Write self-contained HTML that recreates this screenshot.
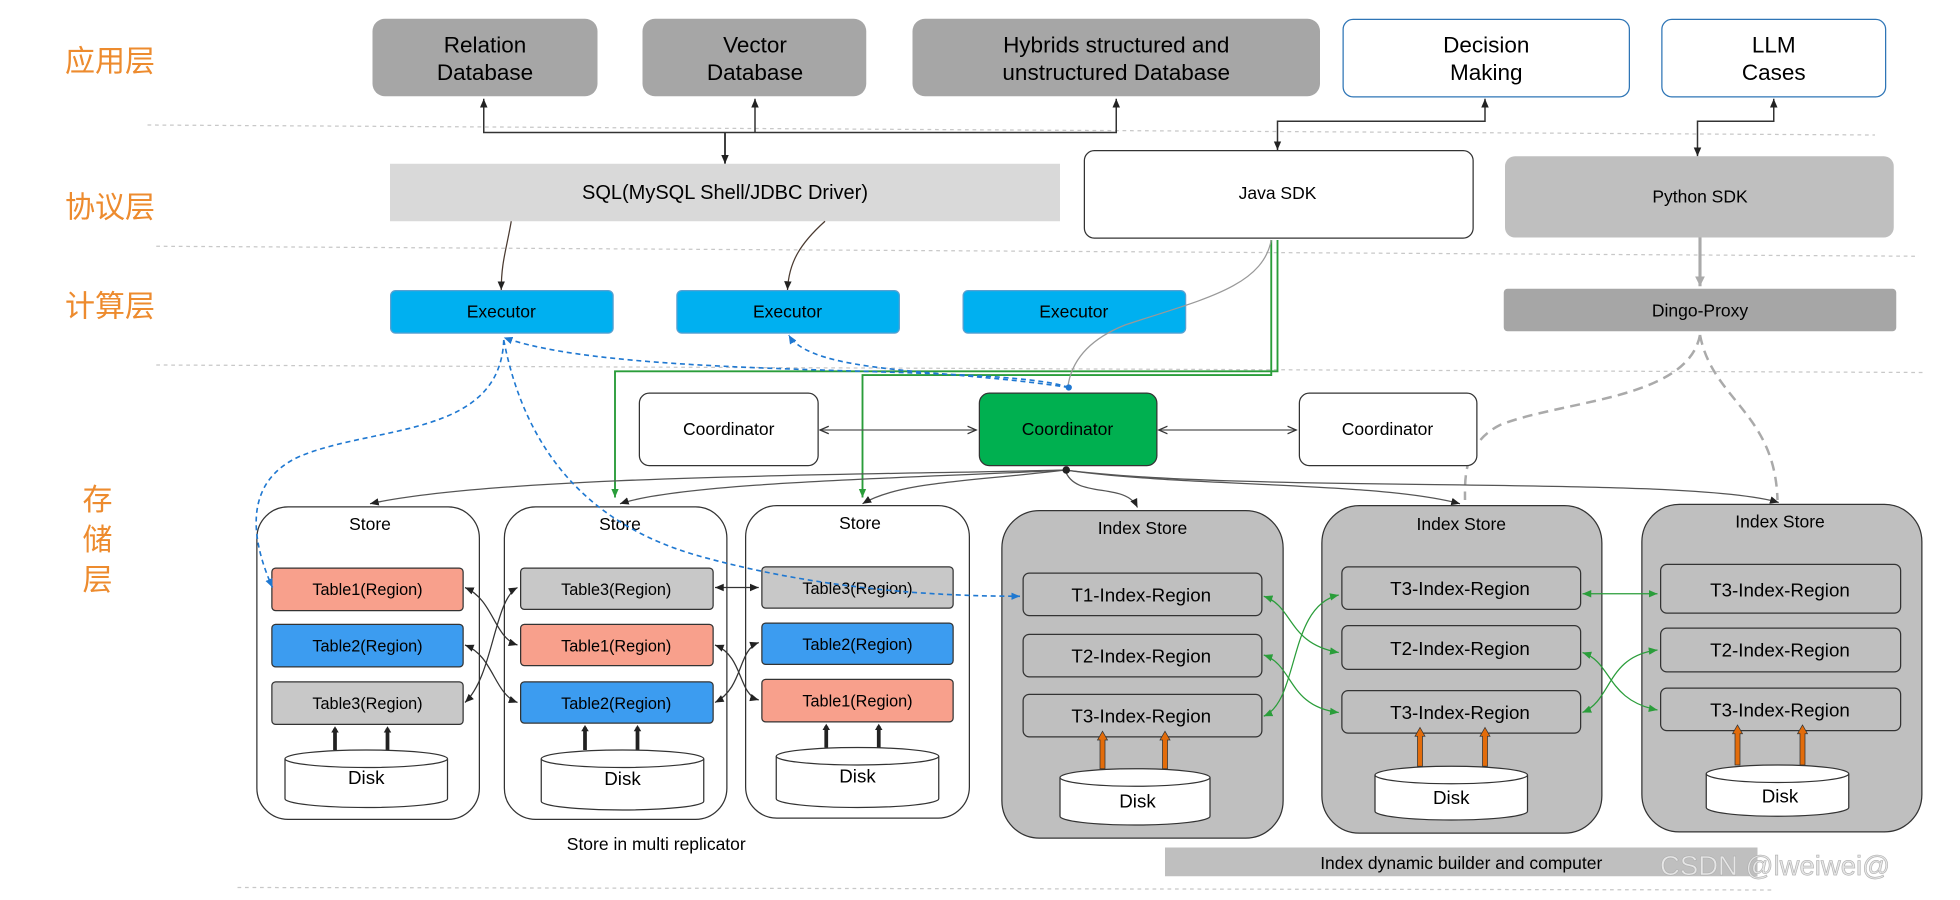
<!DOCTYPE html>
<html><head><meta charset="utf-8"><style>
html,body{margin:0;padding:0;background:#fff;width:1960px;height:900px;overflow:hidden}
svg{display:block}
text{font-family:"Liberation Sans","Noto Sans CJK SC",sans-serif;fill:#000}
</style></head><body>
<svg width="1960" height="900" viewBox="0 0 1568 720" xmlns="http://www.w3.org/2000/svg">
<defs>
<marker id="a" markerWidth="8" markerHeight="8" refX="7" refY="4" orient="auto-start-reverse" markerUnits="userSpaceOnUse"><path d="M0,1 L7,4 L0,7 z" fill="#222"/></marker>
<marker id="ao" markerWidth="8" markerHeight="8" refX="7" refY="4" orient="auto-start-reverse" markerUnits="userSpaceOnUse"><path d="M0,1 L7,4 L0,7" fill="none" stroke="#333"/></marker>
<marker id="ab" markerWidth="8" markerHeight="8" refX="7" refY="4" orient="auto-start-reverse" markerUnits="userSpaceOnUse"><path d="M0,1 L7,4 L0,7 z" fill="#1f78d1"/></marker>
<marker id="ag" markerWidth="8" markerHeight="8" refX="7" refY="4" orient="auto-start-reverse" markerUnits="userSpaceOnUse"><path d="M0,1 L7,4 L0,7 z" fill="#2a9d3a"/></marker>
<marker id="agr" markerWidth="10" markerHeight="10" refX="8" refY="5" orient="auto" markerUnits="userSpaceOnUse"><path d="M0,1 L8,5 L0,9 z" fill="#aaa"/></marker>
<marker id="ak" markerWidth="8" markerHeight="8" refX="3" refY="4" orient="auto" markerUnits="userSpaceOnUse"><path d="M0,1 L5,4 L0,7 z" fill="#222"/></marker>
</defs>
<g stroke="#c8c8c8" stroke-dasharray="3,3" stroke-width="1">
<line x1="118" y1="100" x2="1500" y2="108"/>
<line x1="125" y1="197" x2="1535" y2="205"/>
<line x1="125" y1="292" x2="1540" y2="298"/>
<line x1="190" y1="710" x2="1420" y2="712"/>
</g>
<g font-size="24">
<text x="52" y="57" style="fill:#ed8b2e">应用层</text>
<text x="52" y="174" style="fill:#ed8b2e">协议层</text>
<text x="52" y="253" style="fill:#ed8b2e">计算层</text>
<text x="66" y="408" style="fill:#ed8b2e">存</text>
<text x="66" y="440" style="fill:#ed8b2e">储</text>
<text x="66" y="472" style="fill:#ed8b2e">层</text>
</g>
<g font-size="18" text-anchor="middle">
<rect x="298" y="15" width="180" height="62" rx="10" fill="#a6a6a6"/>
<text x="388" y="42">Relation</text><text x="388" y="64">Database</text>
<rect x="514" y="15" width="179" height="62" rx="10" fill="#a6a6a6"/>
<text x="604" y="42">Vector</text><text x="604" y="64">Database</text>
<rect x="730" y="15" width="326" height="62" rx="10" fill="#a6a6a6"/>
<text x="893" y="42">Hybrids structured and</text><text x="893" y="64">unstructured Database</text>
<rect x="1074.5" y="15.5" width="229" height="62" rx="8" fill="#fff" stroke="#2e75b6"/>
<text x="1189" y="42">Decision</text><text x="1189" y="64">Making</text>
<rect x="1329.5" y="15.5" width="179" height="62" rx="8" fill="#fff" stroke="#2e75b6"/>
<text x="1419" y="42">LLM</text><text x="1419" y="64">Cases</text>
</g>
<g fill="none" stroke="#333" stroke-width="1.2">
<path d="M387,79 V106 H893 V79" marker-start="url(#a)" marker-end="url(#a)"/>
<path d="M604,79 V106" marker-start="url(#a)"/>
<path d="M580,106 V131" marker-end="url(#a)" stroke-width="1.5"/>
<path d="M1188,79 V97 H1022 V120" marker-start="url(#a)" marker-end="url(#a)"/>
<path d="M1419,79 V97 H1358 V125" marker-start="url(#a)" marker-end="url(#a)"/>
</g>
<rect x="312" y="131" width="536" height="46" fill="#d9d9d9"/>
<text x="580" y="159" font-size="16" text-anchor="middle">SQL(MySQL Shell/JDBC Driver)</text>
<rect x="867.5" y="120.5" width="311" height="70" rx="8" fill="#fff" stroke="#333"/>
<text x="1022" y="159" font-size="14" text-anchor="middle">Java SDK</text>
<rect x="1204" y="125" width="311" height="65" rx="8" fill="#bfbfbf"/>
<text x="1360" y="162" font-size="14" text-anchor="middle">Python SDK</text>
<g fill="none" stroke="#4a3a30" stroke-width="1">
<path d="M409,177 C405,200 401,210 401,232" marker-end="url(#a)"/>
<path d="M660,177 C640,195 631,210 630,232" marker-end="url(#a)"/>
</g>
<path d="M1360,190 V229" stroke="#aaa" stroke-width="2.5" fill="none" marker-end="url(#agr)"/>
<g font-size="14" text-anchor="middle">
<rect x="312.5" y="232.5" width="178" height="34" rx="4" fill="#00b0f0" stroke="#5aa0d0"/>
<text x="401" y="254">Executor</text>
<rect x="541.5" y="232.5" width="178" height="34" rx="4" fill="#00b0f0" stroke="#5aa0d0"/>
<text x="630" y="254">Executor</text>
<rect x="770.5" y="232.5" width="178" height="34" rx="4" fill="#00b0f0" stroke="#5aa0d0"/>
<text x="859" y="254">Executor</text>
<rect x="1203" y="231" width="314" height="34" rx="3" fill="#a6a6a6"/>
<text x="1360" y="253">Dingo-Proxy</text>
</g>
<g fill="none" stroke="#2a9d3a" stroke-width="1.5">
<path d="M1022,192 V297 H492 V398" marker-end="url(#ag)"/>
<path d="M1017,192 V300 H690 V398" marker-end="url(#ag)"/>
</g>
<path d="M1017,192 C1010,230 960,240 900,260 C870,272 856,290 854,312" fill="none" stroke="#999" stroke-width="1"/>
<g fill="none" stroke="#aaa" stroke-width="2" stroke-dasharray="8,5">
<path d="M1360,268 C1350,320 1250,320 1200,340 C1170,355 1172,385 1172,400"/>
<path d="M1360,268 C1370,320 1420,330 1422,400"/>
</g>
<g font-size="14" text-anchor="middle">
<rect x="511.5" y="314.5" width="143" height="58" rx="8" fill="#fff" stroke="#333"/>
<text x="583" y="348">Coordinator</text>
<rect x="783.5" y="314.5" width="142" height="58" rx="8" fill="#00b050" stroke="#333"/>
<text x="854" y="348">Coordinator</text>
<rect x="1039.5" y="314.5" width="142" height="58" rx="8" fill="#fff" stroke="#333"/>
<text x="1110" y="348">Coordinator</text>
</g>
<g fill="none" stroke="#555" stroke-width="1">
<path d="M656,344 H781" marker-start="url(#ao)" marker-end="url(#ao)"/>
<path d="M927,344 H1037" marker-start="url(#ao)" marker-end="url(#ao)"/>
<path d="M852,376 C700,380 400,380 296,403" marker-end="url(#a)"/>
<path d="M852,376 C750,382 550,385 496,403" marker-end="url(#a)"/>
<path d="M852,376 C780,385 720,385 690,403" marker-end="url(#a)"/>
<path d="M852,376 C860,400 900,385 910,406" marker-end="url(#a)"/>
<path d="M852,376 C950,390 1100,385 1168,403" marker-end="url(#a)"/>
<path d="M852,376 C1000,395 1350,380 1423,402" marker-end="url(#a)"/>
</g>
<circle cx="853" cy="376" r="3" fill="#222"/>
<g font-size="14" text-anchor="middle">
<rect x="205.5" y="405.5" width="178" height="250" rx="25" fill="#fff" stroke="#333"/>
<text x="296" y="424">Store</text>
<rect x="403.5" y="405.5" width="178" height="250" rx="25" fill="#fff" stroke="#333"/>
<text x="496" y="424">Store</text>
<rect x="596.5" y="404.5" width="179" height="250" rx="25" fill="#fff" stroke="#333"/>
<text x="688" y="423">Store</text>
</g>
<g stroke="#333" stroke-width="1">
<rect x="217.5" y="454.5" width="153" height="34" rx="3" fill="#f8a08c"/>
<rect x="217.5" y="499.5" width="153" height="34" rx="3" fill="#3c9cf0"/>
<rect x="217.5" y="545.5" width="153" height="34" rx="3" fill="#c8c8c8"/>
<rect x="416.5" y="454.5" width="154" height="33" rx="3" fill="#c8c8c8"/>
<rect x="416.5" y="499.5" width="154" height="33" rx="3" fill="#f8a08c"/>
<rect x="416.5" y="545.5" width="154" height="33" rx="3" fill="#3c9cf0"/>
<rect x="609.5" y="453.5" width="153" height="33" rx="3" fill="#c8c8c8"/>
<rect x="609.5" y="498.5" width="153" height="33" rx="3" fill="#3c9cf0"/>
<rect x="609.5" y="543.5" width="153" height="34" rx="3" fill="#f8a08c"/>
</g>
<g font-size="13" text-anchor="middle">
<text x="294" y="476">Table1(Region)</text>
<text x="294" y="521">Table2(Region)</text>
<text x="294" y="567">Table3(Region)</text>
<text x="493" y="476">Table3(Region)</text>
<text x="493" y="521">Table1(Region)</text>
<text x="493" y="567">Table2(Region)</text>
<text x="686" y="475">Table3(Region)</text>
<text x="686" y="520">Table2(Region)</text>
<text x="686" y="565">Table1(Region)</text>
</g>
<g fill="none" stroke="#333" stroke-width="1">
<path d="M372,470 C395,480 395,510 414,516" marker-start="url(#a)" marker-end="url(#a)"/>
<path d="M372,516 C395,525 395,555 414,562" marker-start="url(#a)" marker-end="url(#a)"/>
<path d="M372,562 C395,540 395,480 414,470" marker-start="url(#a)" marker-end="url(#a)"/>
<path d="M572,470 H607" marker-start="url(#a)" marker-end="url(#a)"/>
<path d="M572,516 C595,525 590,555 607,560" marker-start="url(#a)" marker-end="url(#a)"/>
<path d="M572,562 C595,550 590,520 607,514" marker-start="url(#a)" marker-end="url(#a)"/>
</g>
<g stroke="#222" stroke-width="3" fill="none">
<path d="M268,600 V583" marker-end="url(#ak)"/><path d="M310,600 V583" marker-end="url(#ak)"/>
<path d="M468,600 V582" marker-end="url(#ak)"/><path d="M510,600 V582" marker-end="url(#ak)"/>
<path d="M661,598 V581" marker-end="url(#ak)"/><path d="M703,598 V581" marker-end="url(#ak)"/>
</g>
<g font-size="14" text-anchor="middle">
<rect x="801.5" y="408.5" width="225" height="262" rx="30" fill="#bfbfbf" stroke="#333"/>
<text x="914" y="427">Index Store</text>
<rect x="1057.5" y="404.5" width="224" height="262" rx="30" fill="#bfbfbf" stroke="#333"/>
<text x="1169" y="424">Index Store</text>
<rect x="1313.5" y="403.5" width="224" height="262" rx="30" fill="#bfbfbf" stroke="#333"/>
<text x="1424" y="422">Index Store</text>
</g>
<g fill="#bfbfbf" stroke="#333">
<rect x="818.5" y="458.5" width="191" height="34" rx="5"/>
<rect x="818.5" y="507.5" width="191" height="34" rx="5"/>
<rect x="818.5" y="555.5" width="191" height="34" rx="5"/>
<rect x="1073.5" y="453.5" width="191" height="34" rx="5"/>
<rect x="1073.5" y="500.5" width="191" height="35" rx="5"/>
<rect x="1073.5" y="552.5" width="191" height="34" rx="5"/>
<rect x="1328.5" y="451.5" width="192" height="39" rx="5"/>
<rect x="1328.5" y="502.5" width="192" height="35" rx="5"/>
<rect x="1328.5" y="550.5" width="192" height="34" rx="5"/>
</g>
<g font-size="15" text-anchor="middle">
<text x="913" y="481">T1-Index-Region</text>
<text x="913" y="530">T2-Index-Region</text>
<text x="913" y="578">T3-Index-Region</text>
<text x="1168" y="476">T3-Index-Region</text>
<text x="1168" y="524">T2-Index-Region</text>
<text x="1168" y="575">T3-Index-Region</text>
<text x="1424" y="477">T3-Index-Region</text>
<text x="1424" y="525">T2-Index-Region</text>
<text x="1424" y="573">T3-Index-Region</text>
</g>
<g fill="none" stroke="#2a9d3a" stroke-width="1">
<path d="M1011,477 C1035,485 1030,515 1071,522" marker-start="url(#ag)" marker-end="url(#ag)"/>
<path d="M1011,524 C1035,532 1030,565 1071,570" marker-start="url(#ag)" marker-end="url(#ag)"/>
<path d="M1011,573 C1040,560 1030,485 1071,476" marker-start="url(#ag)" marker-end="url(#ag)"/>
<path d="M1266,475 H1326" marker-start="url(#ag)" marker-end="url(#ag)"/>
<path d="M1266,522 C1290,530 1285,560 1326,568" marker-start="url(#ag)" marker-end="url(#ag)"/>
<path d="M1266,570 C1290,560 1285,525 1326,520" marker-start="url(#ag)" marker-end="url(#ag)"/>
</g>
<g fill="#e36c0a" stroke="#333" stroke-width="0.6">
<path d="M880,615 V592 H878 L882,585 L886,592 H884 V615 z"/>
<path d="M930,615 V592 H928 L932,585 L936,592 H934 V615 z"/>
<path d="M1134,613 V589 H1132 L1136,582 L1140,589 H1138 V613 z"/>
<path d="M1186,613 V589 H1184 L1188,582 L1192,589 H1190 V613 z"/>
<path d="M1388,612 V587 H1386 L1390,580 L1394,587 H1392 V612 z"/>
<path d="M1440,612 V587 H1438 L1442,580 L1446,587 H1444 V612 z"/>
</g>
<g fill="#fff" stroke="#333" stroke-width="1">
<path d="M228,607 V639 A65,7 0 0 0 358,639 V607"/><ellipse cx="293" cy="607" rx="65" ry="7"/>
<path d="M433,607 V641 A65,7 0 0 0 563,641 V607"/><ellipse cx="498" cy="607" rx="65" ry="7"/>
<path d="M621,605 V639 A65,7 0 0 0 751,639 V605"/><ellipse cx="686" cy="605" rx="65" ry="7"/>
<path d="M848,622 V653 A60,7 0 0 0 968,653 V622"/><ellipse cx="908" cy="622" rx="60" ry="7"/>
<path d="M1100,620 V649 A61,7 0 0 0 1222,649 V620"/><ellipse cx="1161" cy="620" rx="61" ry="7"/>
<path d="M1365,619 V646 A57,7 0 0 0 1479,646 V619"/><ellipse cx="1422" cy="619" rx="57" ry="7"/>
</g>
<g font-size="15" text-anchor="middle">
<text x="293" y="627">Disk</text><text x="498" y="628">Disk</text><text x="686" y="626">Disk</text>
<text x="910" y="646">Disk</text><text x="1161" y="643">Disk</text><text x="1424" y="642">Disk</text>
</g>
<!-- blue dashed on top -->
<g fill="none" stroke="#1f78d1" stroke-width="1.3" stroke-dasharray="4,3">
<path d="M855,310 C800,290 500,305 403,270" marker-end="url(#ab)"/>
<path d="M855,310 C760,295 650,300 631,268" marker-end="url(#ab)"/>
<path d="M403,272 C400,350 300,340 240,365 C195,385 200,430 218,470" marker-end="url(#ab)"/>
<path d="M403,272 C420,360 470,420 560,445 C650,470 740,477 816,477" marker-end="url(#ab)"/>
</g>
<circle cx="855" cy="310" r="2.5" fill="#1f78d1"/>
<text x="525" y="680" font-size="14" text-anchor="middle">Store in multi replicator</text>
<rect x="932" y="678" width="474" height="23" fill="#bfbfbf"/>
<text x="1169" y="695" font-size="14" text-anchor="middle">Index dynamic builder and computer</text>
<text x="1328" y="700" font-size="22" style="fill:#e6e6e6;stroke:#b0b0b0;stroke-width:0.5">CSDN @lweiwei@</text>
</svg>
</body></html>
